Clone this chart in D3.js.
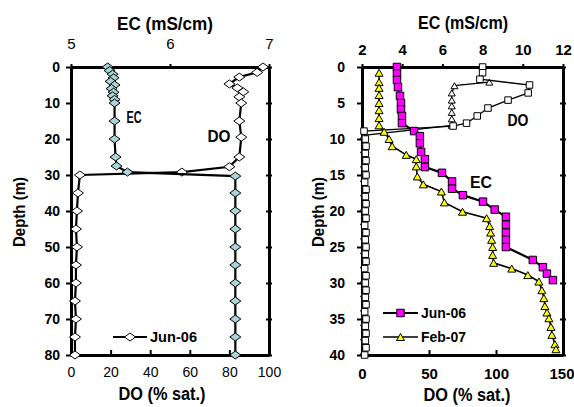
<!DOCTYPE html>
<html><head><meta charset="utf-8">
<script src="https://cdn.jsdelivr.net/npm/d3@7"></script>
<style>
body{margin:0;background:#fff;}
svg{display:block;font-family:'Liberation Sans',Arial,sans-serif;}
</style></head><body><svg id="c" width="574" height="407"></svg>
<script>
// ---------- Left panel data ----------
const ecDepthL = [0,1,2,3,4,5,6,7,8,9,10,15,20,25,27.5,29.2,30.3,35,40,45,50,55,60,65,70,75,80];
const ecJun06L = [5.37,5.39,5.42,5.43,5.40,5.44,5.41,5.43,5.42,5.44,5.44,5.44,5.44,5.45,5.46,5.57,6.66,6.66,6.66,6.66,6.66,6.66,6.66,6.66,6.66,6.66,6.66];
const doDepthL = [0,1.5,2.8,4.7,5.8,6.9,8.3,10,15,19.5,25,27.7,29.2,30,35,40,45,50,55,60,65,70,75,80];
const doJun06L = [97,94,85,80,84,87,85,86,85,86,85,80,56,4.5,3.5,3,2.5,3,2.5,2.5,2,2.5,2,2];
const depthTicksL = [0,10,20,30,40,50,60,70,80];
const ecTicksL = [5,6,7];
const doTicksL = [0,20,40,60,80,100];

// ---------- Right panel data ----------
const ecDepthJun = [0,0.9,1.8,2.8,4,5,5.9,6.8,7.8,8.9,9.6,10.6,11.8,12.8,13.9,14.7,15.9,16.9,17.8,18.7,19.8,20.8,21.9,23,24,25,26.8,27.8,28.7,29.6];
const ecJun06R = [3.74,3.74,3.74,3.79,3.89,3.94,3.94,3.99,3.99,4.59,4.88,4.88,4.94,5.13,5.13,5.98,6.48,6.48,7.02,8.02,8.6,9.16,9.16,9.16,9.16,9.16,10.5,11.0,11.2,11.5];
const ecDepthFeb = [0.8,2.1,2.9,3.9,5,6,7.1,8.1,9,10,11,12.2,12.8,13.8,15.2,16.3,17.3,18.8,20.1,21,22.1,23,24,25,26.1,27.2,28,28.9,29.8,31,32.1,33.2,34.1,34.9,36.1,37.2,38.5,39.2];
const ecFeb07R = [2.85,2.85,2.85,2.85,2.85,2.85,2.85,2.85,3.1,3.35,3.5,4.2,4.7,4.7,4.75,5.05,5.95,6.1,7.0,8.2,8.35,8.4,8.45,8.5,8.5,8.55,9.45,10.25,10.8,10.95,11.05,11.1,11.2,11.3,11.4,11.45,11.6,11.65];
const doDepthJun = [0,0.8,1.7,2.5,3.6,4.6,5.7,6.8,7.8,8.2,8.9,10,11,12,13,14,15,16,17,18,19,20,21,22,23,24,25,26,27,28,29,30,31,32,33,34,35,36,37,38,39,40];
const doJun06R = [90,90,88,125,124,109,94,86,78,68,1.5,2.5,3,2.5,3,2.5,3,2,3,2.5,3,2.5,3,2,3,2.5,3,2.5,3,2,3,2.5,3,2.5,3,2,3,2.5,3,2.5,3,2];
const doDepthFeb = [2.1,2.6,3.6,4.6,5.4,6.3,7.2,8.1,9.5,10.5,11.5,12.5,13.5,14.5,15.5,16.5,17.5,18.5,19.5,20.5,21.5,22.5,23.5,24.5,25.5,26.5,27.5,28.5,29.5,30.5,31.5,32.5,33.5,34.5,35.5,36.5,37.5,38.5,39.5];
const doFeb07R = [95,69,67,67,67,67,67,67,1.5,2,1.5,2,1.5,2,1.5,2,1.5,2,1.5,2,1.5,2,1.5,2,1.5,2,1.5,2,1.5,2,1.5,2,1.5,2,1.5,2,1.5,2,1.5];
const depthTicksR = [0,5,10,15,20,25,30,35,40];
const ecTicksR = [2,4,6,8,10,12];
const doTicksR = [0,50,100,150];

const svg = d3.select('#c');

// scales
const yL = d3.scaleLinear().domain([0,80]).range([67,355]);
const xEcL = d3.scaleLinear().domain([5,7]).range([71,269]);
const xDoL = d3.scaleLinear().domain([0,100]).range([71,269]);
const yR = d3.scaleLinear().domain([0,40]).range([67,355]);
const xEcR = d3.scaleLinear().domain([2,12]).range([362,563]);
const xDoR = d3.scaleLinear().domain([0,150]).range([362,563]);

const fmt = d3.format('d');

function styleAxis(g, fs, fw){
  g.select('.domain').attr('stroke','#000').attr('stroke-width',3);
  g.selectAll('.tick line').attr('stroke','#000').attr('stroke-width',2);
  g.selectAll('.tick text').attr('font-size',fs).attr('font-weight',fw).attr('fill','#000')
    .attr('font-family',"'Liberation Sans',Arial,sans-serif");
}

function drawFrame(x, xTop, y, yTicks, topTicks, botTicks, opts){
  const [x0,x1] = x.range(), [y0,y1] = y.range();
  const gl = svg.append('g').attr('transform',`translate(${x0},0)`)
    .call(d3.axisLeft(y).tickValues(yTicks).tickFormat(fmt).tickSize(5).tickSizeOuter(0).tickPadding(opts.leftPad));
  styleAxis(gl, 14, 'bold');
  const gr = svg.append('g').attr('transform',`translate(${x1},0)`)
    .call(d3.axisRight(y).tickValues(yTicks).tickSize(3).tickSizeOuter(0).tickFormat(''));
  styleAxis(gr, 14, 'bold');
  gr.selectAll('.tick line').attr('x1',-3);
  const gb = svg.append('g').attr('transform',`translate(0,${y1})`)
    .call(d3.axisBottom(x).tickValues(botTicks).tickFormat(fmt).tickSize(-5).tickSizeOuter(0).tickPadding(opts.botPad));
  styleAxis(gb, opts.botSize, opts.botWeight);
  const gt = svg.append('g').attr('transform',`translate(0,${y0})`)
    .call(d3.axisTop(xTop).tickValues(topTicks).tickFormat(fmt).tickSize(3).tickSizeOuter(0).tickPadding(opts.topPad));
  styleAxis(gt, 15, opts.topWeight);
  return gb;
}

drawFrame(xDoL, xEcL, yL, depthTicksL, ecTicksL, doTicksL, {leftPad:6, botPad:12, topPad:15, botSize:14, botWeight:'normal', topWeight:'normal'});
const gbR = drawFrame(xDoR, xEcR, yR, depthTicksR, ecTicksR, doTicksR, {leftPad:12, botPad:13, topPad:9, botSize:15, botWeight:'bold', topWeight:'bold'});
// keep the last bottom label inside the picture
gbR.selectAll('.tick text').filter(d=>d===150).attr('text-anchor','end').attr('dx',11);

// marker generators
const diamond = (w,h)=>`M0,${-h/2}L${w/2},0L0,${h/2}L${-w/2},0Z`;
const square = s=>`M${-s/2},${-s/2}h${s}v${s}h${-s}Z`;
const tri = (w,h)=>`M0,${-h/2}L${w/2},${h/2}L${-w/2},${h/2}Z`;

function series(depths, vals, x, y, lineW, shape, fill){
  const pts = d3.zip(depths, vals);
  const line = d3.line().x(d=>x(d[1])).y(d=>y(d[0]));
  svg.append('path').datum(pts).attr('d',line).attr('fill','none').attr('stroke','#000').attr('stroke-width',lineW);
  svg.append('g').selectAll('path').data(pts).join('path')
    .attr('transform',d=>`translate(${x(d[1])},${y(d[0])})`)
    .attr('d',shape).attr('fill',fill).attr('stroke','#000').attr('stroke-width',1);
}

// left panel
series(doDepthL, doJun06L, xDoL, yL, 2.2, diamond(11,8), '#ffffff');
series(ecDepthL, ecJun06L, xEcL, yL, 2.2, diamond(11,8), '#a9d4d8');

// right panel
series(doDepthFeb, doFeb07R, xDoR, yR, 1.3, tri(7,6), '#ffffff');
series(doDepthJun, doJun06R, xDoR, yR, 1.3, square(6.5), '#ffffff');
series(ecDepthFeb, ecFeb07R, xEcR, yR, 1.6, tri(8,7), '#ffff00');
series(ecDepthJun, ecJun06R, xEcR, yR, 2.2, square(7.5), '#ff00ff');

// titles (textLength narrows the glyphs like the condensed original)
const T = (x,y,txt,fs,len,rot)=>{
  const t = svg.append('text').attr('x',x).attr('y',y).attr('text-anchor','middle')
    .attr('font-size',fs).attr('font-weight','bold').text(txt);
  if(len) t.attr('textLength',len).attr('lengthAdjust','spacingAndGlyphs');
  if(rot) t.attr('transform',`rotate(-90,${x},${y})`);
  return t;
};
T(165,30,'EC (mS/cm)',18,96);
T(463,29,'EC (mS/cm)',18,90);
T(162,400,'DO (% sat.)',18,87);
T(467,401,'DO (% sat.)',18,87);
T(25,212,'Depth (m)',16,70,true);
T(324,212,'Depth (m)',16,70,true);

// series labels
T(134,123,'EC',16,15);
T(219,142,'DO',17,23);
T(518,126,'DO',16,21);
T(481,188,'EC',16,22);

// legends
function legend(x0,x1,y,shape,fill,lw,label,len){
  svg.append('line').attr('x1',x0).attr('x2',x1).attr('y1',y).attr('y2',y).attr('stroke','#000').attr('stroke-width',lw);
  svg.append('path').attr('transform',`translate(${(x0+x1)/2},${y})`).attr('d',shape)
    .attr('fill',fill).attr('stroke','#000').attr('stroke-width',1);
  svg.append('text').attr('x',x1+3).attr('y',y+5).attr('font-size',15).attr('font-weight','bold')
    .attr('textLength',len).attr('lengthAdjust','spacingAndGlyphs').text(label);
}
legend(113,147,337,diamond(11,8),'#ffffff',2,'Jun-06',47);
legend(383,418,313,square(7.5),'#ff00ff',2.2,'Jun-06',45);
legend(383,418,337,tri(8,7),'#ffff00',1.6,'Feb-07',45);
</script></body></html>
